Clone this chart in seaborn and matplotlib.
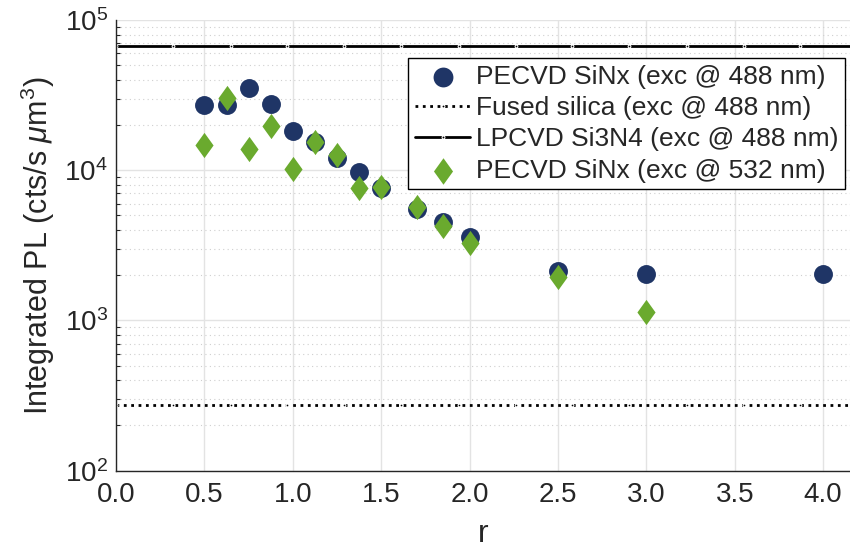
import numpy as np
import pandas as pd
import matplotlib
matplotlib.use("Agg")
import matplotlib.pyplot as plt
import seaborn as sns
from matplotlib.ticker import LogLocator, FixedLocator

r_vals = [0.5, 0.625, 0.75, 0.875, 1.0, 1.125, 1.25, 1.375, 1.5, 1.7, 1.85, 2.0, 2.5, 3.0, 4.0]
pl_488 = [27100, 27000, 35200, 27500, 18200, 15400, 12000, 9700, 7600, 5500, 4500, 3580, 2120, 2030, 2030]

r_532 = [0.5, 0.625, 0.75, 0.875, 1.0, 1.125, 1.25, 1.375, 1.5, 1.7, 1.85, 2.0, 2.5, 3.0]
pl_532 = [14700, 30200, 13800, 19600, 10200, 15400, 12600, 7600, 7700, 5670, 4230, 3260, 1960, 1130]

line_x = [0.0, 0.32, 0.65, 0.97, 1.29, 1.61, 1.94, 2.26, 2.58, 2.9, 3.23, 3.55, 3.87, 4.2]
fused_silica = 275
lpcvd = 67100

xticks = [0.0, 0.5, 1.0, 1.5, 2.0, 2.5, 3.0, 3.5, 4.0]

sns.set_theme(style="white")
plt.rcParams['font.family'] = ['Liberation Sans', 'DejaVu Sans']
plt.rcParams['mathtext.fontset'] = 'custom'
plt.rcParams['mathtext.rm'] = 'Liberation Sans'
plt.rcParams['mathtext.it'] = 'Liberation Sans:italic'

navy = "#1f3566"
green = "#6aaa2e"
ink = "#262626"

fig = plt.figure(figsize=(8.5, 5.52), dpi=100)
ax = fig.add_axes([0.1365, 0.1473, 0.8635, 0.8165])

df488 = pd.DataFrame({"r": r_vals, "pl": pl_488})
df532 = pd.DataFrame({"r": r_532, "pl": pl_532})
dfl = pd.DataFrame({"r": line_x, "fs": [fused_silica] * len(line_x), "lp": [lpcvd] * len(line_x)})

diamond = [(0, 1), (0.72, 0), (0, -1), (-0.72, 0), (0, 1)]

sns.scatterplot(data=df488, x="r", y="pl", ax=ax, marker="o", s=185, color=navy,
                edgecolor=navy, linewidth=0, label="PECVD SiNx (exc @ 488 nm)", zorder=3)
sns.lineplot(data=dfl, x="r", y="fs", ax=ax, color="black", linestyle=":", linewidth=2,
             marker=".", markersize=4, label="Fused silica (exc @ 488 nm)", zorder=2)
sns.lineplot(data=dfl, x="r", y="lp", ax=ax, color="black", linestyle="-", linewidth=2,
             marker=".", markersize=4, label="LPCVD Si3N4 (exc @ 488 nm)", zorder=2)
sns.scatterplot(data=df532, x="r", y="pl", ax=ax, marker=diamond, s=330, color=green,
                edgecolor=green, linewidth=0, label="PECVD SiNx (exc @ 532 nm)", zorder=4)

ax.set_yscale("log")
ax.set_ylim(100, 100000)
ax.set_xlim(0, 4.152)
ax.xaxis.set_major_locator(FixedLocator(xticks))
ax.set_xticklabels([f"{t:.1f}" for t in xticks])
ax.yaxis.set_major_locator(LogLocator(base=10, numticks=10))
ax.yaxis.set_minor_locator(LogLocator(base=10, subs=np.arange(2, 10), numticks=20))

ax.grid(True, which="major", color="#e3e3e3", linewidth=1, linestyle="-")
ax.grid(True, which="minor", axis="y", color="#cfcfcf", linewidth=0.8, linestyle=(0, (1, 3)))
ax.set_axisbelow(True)

ax.tick_params(axis="both", which="major", direction="in", length=6, width=1,
               labelsize=20, colors=ink, top=False, right=False)
ax.tick_params(axis="x", which="major", pad=8)
ax.tick_params(axis="y", which="major", pad=6)
ax.tick_params(axis="y", which="minor", direction="in", length=3, width=0.8, left=True)
for s in ["left", "bottom"]:
    ax.spines[s].set_color(ink)
    ax.spines[s].set_linewidth(1)
for s in ["top", "right"]:
    ax.spines[s].set_visible(False)

ax.set_xlabel("r", fontsize=23, color=ink, labelpad=8)
ax.set_ylabel(r"Integrated PL (cts/s $\mu$m$^3$)", fontsize=22, color=ink, labelpad=5)

leg = ax.legend(loc="upper right", bbox_to_anchor=(0.993, 0.9156), fontsize=19,
                frameon=True, fancybox=False, edgecolor="black", framealpha=1,
                borderpad=0.25, labelspacing=0.28, handlelength=2.1, handletextpad=0.2,
                borderaxespad=0, markerscale=1.05)
leg.get_frame().set_linewidth(1)

fig.savefig("out.png", dpi=100)
